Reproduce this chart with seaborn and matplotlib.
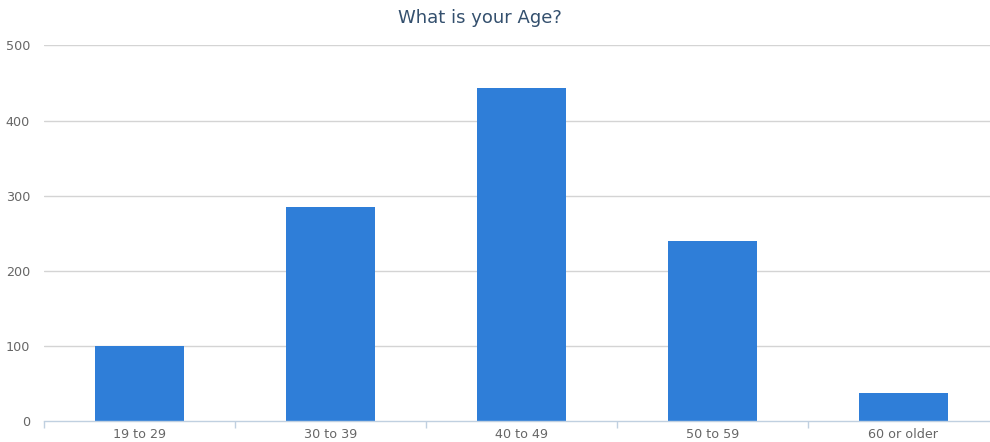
import matplotlib
matplotlib.use("Agg")
import matplotlib.pyplot as plt
import seaborn as sns
import pandas as pd
from matplotlib.ticker import FixedLocator

# Survey responses by age bracket
age_groups = ["19 to 29", "30 to 39", "40 to 49", "50 to 59", "60 or older"]
responses = [101, 285, 444, 240, 38]
y_ticks = [0, 100, 200, 300, 400, 500]

df = pd.DataFrame({"age": age_groups, "count": responses})

sns.set_theme(style="white")
plt.rcParams["font.family"] = ["DejaVu Sans"]

fig = plt.figure(figsize=(9.9, 4.42), dpi=100)
ax = fig.add_axes([0.0444, 0.0464, 0.9646, 0.8507])

sns.barplot(data=df, x="age", y="count", color="#2f7ed8", saturation=1,
            width=0.466, ax=ax, zorder=3, linewidth=0)

ax.set_xlim(-0.5, len(age_groups) - 0.5)
ax.set_ylim(0, 500)
ax.set_yticks(y_ticks)
ax.set_yticklabels([str(v) for v in y_ticks])
ax.set_xlabel("")
ax.set_ylabel("")

# horizontal grid lines
for v in y_ticks[1:]:
    ax.axhline(v, color="#d4d4d4", linewidth=1, zorder=1)

for side in ["top", "right", "left"]:
    ax.spines[side].set_visible(False)
ax.spines["bottom"].set_color("#c0d0e0")
ax.spines["bottom"].set_linewidth(1)
ax.spines["bottom"].set_zorder(4)

ax.tick_params(axis="y", length=0, pad=10, labelsize=9.2, labelcolor="#666666")
ax.tick_params(axis="x", which="major", length=0, pad=5, labelsize=9.2,
               labelcolor="#666666")
ax.xaxis.set_minor_locator(FixedLocator([i - 0.5 for i in range(len(age_groups) + 1)]))
ax.tick_params(axis="x", which="minor", bottom=True, length=5, width=1,
               color="#c0d0e0", direction="out")

fig.text(480 / 990, 1 - 18 / 442, "What is your Age?", ha="center", va="center",
         fontsize=13, color="#34506e")

fig.savefig("out.png", dpi=100, facecolor="white")
